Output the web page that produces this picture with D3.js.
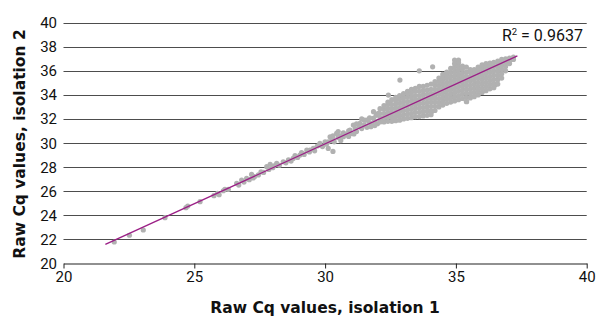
<!DOCTYPE html>
<html>
<head>
<meta charset="utf-8">
<script src="https://cdn.jsdelivr.net/npm/d3@7"></script>
<style>
  body { margin: 0; background: #fff; }
  text { font-family: Roboto, "DejaVu Sans", sans-serif; }
  text.title { font-family: "DejaVu Sans", sans-serif; font-weight: bold; }
</style>
</head>
<body>
<svg width="597" height="318"></svg>
<script>
// axis ticks
var xTicks = [20, 25, 30, 35, 40];
var yTicks = [20, 22, 24, 26, 28, 30, 32, 34, 36, 38, 40];

// linear fit shown on the chart
var fitSlope = 0.994, fitIntercept = 0.11, fitRange = [21.6, 37.35];
var rSquared = "0.9637";

// low, sparse samples
var lowPoints = [[21.94,21.77],[22.52,22.33],[23.05,22.77],[23.88,23.79],[24.68,24.62],[24.75,24.76],
  [25.22,25.12],[25.75,25.62],[25.89,25.82],[25.95,25.7]];

// the narrow band 26 - 32
var bandPoints = [[26.11,26.03],[26.17,26.15],[26.3,26.15],[26.62,26.65],[26.7,26.5],[26.81,26.92],[26.9,26.75],
  [27.0,27.06],[27.1,26.95],[27.19,27.39],[27.25,27.1],[27.3,27.2],[27.45,27.35],[27.55,27.6],[27.65,27.55],
  [27.77,28.03],[27.85,27.8],[27.9,28.23],[28.0,27.95],[28.05,28.1],[28.15,28.31],[28.25,28.15],[28.4,28.44],
  [28.5,28.35],[28.6,28.6],[28.7,28.5],[28.78,28.72],[28.85,28.95],[28.95,28.8],[29.04,29.0],[29.1,29.2],
  [29.2,29.05],[29.3,29.41],[29.4,29.25],[29.42,29.42],[29.55,29.55],[29.6,29.35],[29.7,29.75],[29.8,29.83],
  [29.8,29.97],[29.9,29.7],[30.0,30.1],[30.05,29.9],[30.12,30.1],[30.12,29.55],[30.3,29.3],[30.19,30.52],
  [30.25,30.2],[30.3,30.35],[30.35,30.1],[30.44,30.8],[30.5,30.45],[30.6,30.6],[30.7,30.52],[30.7,30.85],
  [30.8,30.7],[30.9,31.0],[30.95,31.08],[31.0,30.8],[31.08,31.49],[31.15,31.2],[31.2,30.95],[31.3,31.35],
  [31.33,31.63],[31.4,31.2],[31.5,31.5],[31.59,31.9],[31.6,31.3],[31.7,31.7],[31.8,31.5],[31.84,32.05],
  [31.9,31.85],[32.0,31.6],[32.03,32.46],[30.5,30.95],[30.9,30.55],[31.2,31.6],[31.4,32.0],[31.5,31.9],
  [31.7,32.1],[31.75,31.35],[31.95,32.3],[30.3,30.6],[30.6,30.2],[31.1,30.75],[31.9,31.45],[31.85,32.6]];

// the dense cloud 32 - 37, one row per isolation-1 value: [x, [y, y, ...]]
var cloudColumns = [
  [32.1, [31.75,32.1,32.45,32.85]],
  [32.25,[31.75,32.1,32.45,32.8,33.1]],
  [32.4, [31.8,32.15,32.5,32.85,33.2,33.4]],
  [32.55,[31.8,32.15,32.5,32.85,33.2,33.6]],
  [32.7, [31.85,32.2,32.55,32.9,33.25,33.55,33.8]],
  [32.85,[31.9,32.25,32.6,32.95,33.3,33.65,33.95]],
  [33.0, [32.0,32.35,32.7,33.05,33.4,33.75,34.1]],
  [33.15,[32.05,32.4,32.75,33.1,33.45,33.8,34.1,34.3]],
  [33.3, [32.1,32.45,32.8,33.15,33.5,33.85,34.2,34.45]],
  [33.45,[32.2,32.55,32.9,33.25,33.6,33.95,34.3,34.55]],
  [33.6, [32.2,32.55,32.9,33.25,33.6,33.95,34.3,34.7]],
  [33.75,[32.25,32.6,32.95,33.3,33.65,34.0,34.35,34.7]],
  [33.9, [32.3,32.65,33.0,33.35,33.7,34.05,34.4,34.8]],
  [34.05,[32.35,32.7,33.05,33.4,33.75,34.1,34.45,34.9]],
  [34.2, [32.7,33.05,33.4,33.75,34.1,34.45,34.8,35.1]],
  [34.35,[33.0,33.35,33.7,34.05,34.4,34.75,35.1,35.4]],
  [34.5, [33.15,33.5,33.85,34.2,34.55,34.9,35.25,35.5,35.7]],
  [34.65,[33.3,33.65,34.0,34.35,34.7,35.05,35.4,35.7,35.9]],
  [34.8, [33.4,33.75,34.1,34.45,34.8,35.15,35.5,35.85,36.2]],
  [34.95,[33.5,33.85,34.2,34.55,34.9,35.25,35.6,35.95,36.3,36.6,36.9]],
  [35.1, [33.6,33.95,34.3,34.65,35.0,35.35,35.7,36.05,36.4,36.7,36.9]],
  [35.25,[33.7,34.05,34.4,34.75,35.1,35.45,35.8,36.15,36.4]],
  [35.4, [33.45,33.8,34.15,34.5,34.85,35.2,35.55,35.9,36.3]],
  [35.55,[33.75,34.1,34.45,34.8,35.15,35.5,35.85,36.1]],
  [35.7, [33.85,34.2,34.55,34.9,35.25,35.6,35.9,36.1]],
  [35.85,[34.0,34.35,34.7,35.05,35.4,35.75,36.05,36.3]],
  [36.0, [34.2,34.55,34.9,35.25,35.6,35.95,36.25,36.5]],
  [36.15,[34.35,34.7,35.05,35.4,35.75,36.1,36.4,36.6]],
  [36.3, [34.5,34.85,35.2,35.55,35.9,36.25,36.5,36.65]],
  [36.45,[34.6,34.95,35.3,35.65,36.0,36.35,36.7]],
  [36.6, [34.9,35.25,35.6,35.95,36.3,36.6,36.8]],
  [36.75,[35.4,35.75,36.1,36.45,36.75,36.95]],
  [36.9, [36.0,36.35,36.7,37.0]],
  [37.05,[36.6,36.85,37.05]],
  [37.2, [36.95,37.15]]
];

// stray points around the cloud
var outlierPoints = [[32.86,35.23],[33.6,36.0],[34.11,36.33],[35.41,33.43],[34.07,32.6],[36.49,34.82],
  [36.18,36.48],[32.42,33.98],[32.67,32.05],[32.48,33.3],[32.74,32.32]];

var svg = d3.select("svg");

var x = d3.scaleLinear().domain([20, 40]).range([63.5, 586.7]);
var y = d3.scaleLinear().domain([20, 40]).range([263.3, 22.7]);

var points = lowPoints.concat(bandPoints, outlierPoints);
cloudColumns.forEach(function(c) {
  c[1].forEach(function(v) { points.push([c[0], v]); });
});

// gridlines
svg.append("g")
  .selectAll("line")
  .data(yTicks.slice(1))
  .enter().append("line")
  .attr("x1", x(20)).attr("x2", x(40))
  .attr("y1", d => Math.round(y(d)) + 0.5).attr("y2", d => Math.round(y(d)) + 0.5)
  .attr("stroke", "#4d4d4d").attr("stroke-width", 1.2);

// x axis
var xAxis = svg.append("g")
  .attr("transform", "translate(0," + (Math.round(y(20)) + 0.5) + ")")
  .call(d3.axisBottom(x).tickValues(xTicks).tickSize(5).tickPadding(3).tickSizeOuter(0));
xAxis.select(".domain").attr("stroke", "#222").attr("stroke-width", 1.2);
xAxis.selectAll(".tick line").attr("stroke", "#222");
xAxis.selectAll("text").attr("font-size", 15).attr("fill", "#111")
  .style("font-family", "Roboto, sans-serif");

// y labels
svg.append("g")
  .selectAll("text")
  .data(yTicks)
  .enter().append("text")
  .attr("x", 57)
  .attr("y", d => y(d) + 5.5)
  .attr("text-anchor", "end")
  .attr("font-size", 15)
  .attr("fill", "#111")
  .text(d => d);

// points
svg.append("g")
  .selectAll("circle")
  .data(points)
  .enter().append("circle")
  .attr("cx", d => x(d[0]))
  .attr("cy", d => y(d[1]))
  .attr("r", 2.6)
  .attr("fill", "#b1b1b1");

// trend line
svg.append("line")
  .attr("x1", x(fitRange[0])).attr("y1", y(fitSlope * fitRange[0] + fitIntercept))
  .attr("x2", x(fitRange[1])).attr("y2", y(fitSlope * fitRange[1] + fitIntercept))
  .attr("stroke", "#9b1f86").attr("stroke-width", 1.3);

// R squared
var r2 = svg.append("text")
  .attr("x", 583).attr("y", 41)
  .attr("text-anchor", "end")
  .attr("font-size", 16)
  .attr("fill", "#111");
r2.append("tspan").text("R");
r2.append("tspan").attr("font-size", 9.5).attr("dy", -6).text("2");
r2.append("tspan").attr("dy", 6).text(" = " + rSquared);

// axis titles
svg.append("text")
  .attr("class", "title")
  .attr("x", 325).attr("y", 313)
  .attr("text-anchor", "middle")
  .attr("font-size", 15.5)
  .attr("fill", "#111")
  .text("Raw Cq values, isolation 1");

svg.append("text")
  .attr("class", "title")
  .attr("transform", "translate(24.5,144) rotate(-90)")
  .attr("text-anchor", "middle")
  .attr("font-size", 15.5)
  .attr("fill", "#111")
  .text("Raw Cq values, isolation 2");
</script>
</body>
</html>
